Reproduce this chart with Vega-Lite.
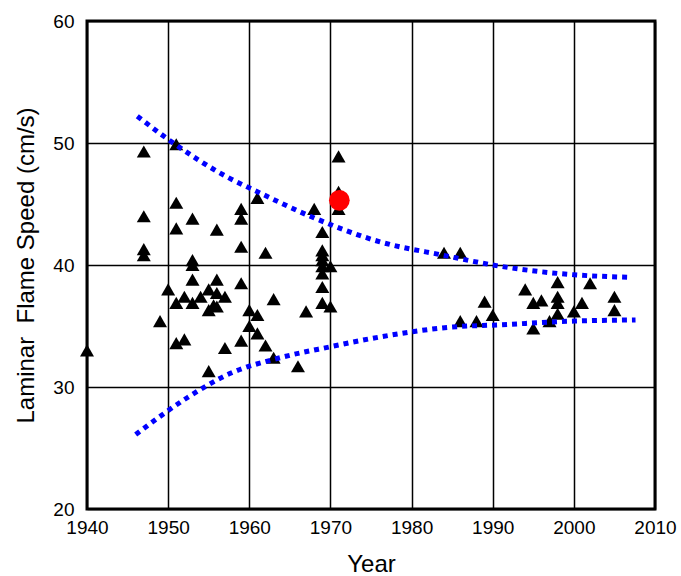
{
  "$schema": "https://vega.github.io/schema/vega-lite/v6.json",
  "width": 568,
  "height": 488,
  "autosize": {"type": "none"},
  "padding": {"left": 87, "top": 21, "right": 26, "bottom": 67},
  "background": "white",
  "config": {
    "view": {"stroke": "black", "strokeWidth": 3},
    "axis": {
      "labelFont": "Liberation Sans",
      "labelFontSize": 19,
      "labelColor": "black",
      "titleFont": "Liberation Sans",
      "titleFontSize": 24,
      "titleFontWeight": "normal",
      "titleColor": "black",
      "grid": true,
      "gridColor": "black",
      "gridWidth": 1.5,
      "gridOpacity": 1,
      "ticks": false,
      "domain": false,
      "labelFlush": false,
      "labelOverlap": false
    }
  },
  "datasets": {
    "pts": [
      {"year": 1940, "speed": 33.0},
      {"year": 1947, "speed": 49.3},
      {"year": 1947, "speed": 44.0},
      {"year": 1947, "speed": 41.3},
      {"year": 1947, "speed": 40.8},
      {"year": 1949, "speed": 35.4},
      {"year": 1950, "speed": 38.0},
      {"year": 1951, "speed": 49.9},
      {"year": 1951, "speed": 45.1},
      {"year": 1951, "speed": 43.0},
      {"year": 1951, "speed": 36.9},
      {"year": 1951, "speed": 33.6},
      {"year": 1952, "speed": 37.4},
      {"year": 1952, "speed": 33.9},
      {"year": 1953, "speed": 43.8},
      {"year": 1953, "speed": 40.4},
      {"year": 1953, "speed": 40.0},
      {"year": 1953, "speed": 38.8},
      {"year": 1953, "speed": 36.9},
      {"year": 1954, "speed": 37.4},
      {"year": 1955, "speed": 38.0},
      {"year": 1955, "speed": 36.3},
      {"year": 1955, "speed": 31.3},
      {"year": 1955.6, "speed": 36.7},
      {"year": 1956, "speed": 42.9},
      {"year": 1956, "speed": 38.8},
      {"year": 1956, "speed": 37.7},
      {"year": 1956, "speed": 36.6},
      {"year": 1957, "speed": 37.4},
      {"year": 1957, "speed": 33.2},
      {"year": 1959, "speed": 44.6},
      {"year": 1959, "speed": 43.8},
      {"year": 1959, "speed": 41.5},
      {"year": 1959, "speed": 38.5},
      {"year": 1959, "speed": 33.8},
      {"year": 1960, "speed": 36.3},
      {"year": 1960, "speed": 35.0},
      {"year": 1961, "speed": 45.5},
      {"year": 1961, "speed": 35.9},
      {"year": 1961, "speed": 34.4},
      {"year": 1962, "speed": 41.0},
      {"year": 1962, "speed": 33.4},
      {"year": 1963, "speed": 37.2},
      {"year": 1963, "speed": 32.4},
      {"year": 1966, "speed": 31.7},
      {"year": 1967, "speed": 36.2},
      {"year": 1968, "speed": 44.6},
      {"year": 1969, "speed": 42.7},
      {"year": 1969, "speed": 41.2},
      {"year": 1969, "speed": 40.8},
      {"year": 1969, "speed": 40.4},
      {"year": 1969, "speed": 39.9},
      {"year": 1969, "speed": 39.3},
      {"year": 1969, "speed": 38.2},
      {"year": 1969, "speed": 36.9},
      {"year": 1970, "speed": 39.9},
      {"year": 1970, "speed": 36.6},
      {"year": 1971, "speed": 48.9},
      {"year": 1971, "speed": 46.0},
      {"year": 1971, "speed": 44.6},
      {"year": 1984, "speed": 41.0},
      {"year": 1986, "speed": 41.0},
      {"year": 1986, "speed": 35.4},
      {"year": 1988, "speed": 35.4},
      {"year": 1989, "speed": 37.0},
      {"year": 1990, "speed": 35.9},
      {"year": 1994, "speed": 38.0},
      {"year": 1995, "speed": 36.9},
      {"year": 1995, "speed": 34.8},
      {"year": 1996, "speed": 37.1},
      {"year": 1997, "speed": 35.4},
      {"year": 1998, "speed": 38.6},
      {"year": 1998, "speed": 37.4},
      {"year": 1998, "speed": 36.9},
      {"year": 1998, "speed": 36.0},
      {"year": 2000, "speed": 36.2},
      {"year": 2001, "speed": 36.9},
      {"year": 2002, "speed": 38.5},
      {"year": 2005, "speed": 37.4},
      {"year": 2005, "speed": 36.3}
    ],
    "curves": [
      {"curve": "upper", "year": 1946.2, "speed": 52.2},
      {"curve": "upper", "year": 1950.0, "speed": 50.3},
      {"curve": "upper", "year": 1957.6, "speed": 47.1},
      {"curve": "upper", "year": 1960.7, "speed": 46.1},
      {"curve": "upper", "year": 1967.5, "speed": 44.0},
      {"curve": "upper", "year": 1976.1, "speed": 41.9},
      {"curve": "upper", "year": 1983.9, "speed": 40.8},
      {"curve": "upper", "year": 1990.9, "speed": 39.9},
      {"curve": "upper", "year": 2000.0, "speed": 39.2},
      {"curve": "upper", "year": 2006.6, "speed": 39.0},
      {"curve": "lower", "year": 1946.0, "speed": 26.1},
      {"curve": "lower", "year": 1952.3, "speed": 29.1},
      {"curve": "lower", "year": 1957.6, "speed": 31.1},
      {"curve": "lower", "year": 1963.8, "speed": 32.4},
      {"curve": "lower", "year": 1970.0, "speed": 33.3},
      {"curve": "lower", "year": 1976.1, "speed": 34.1},
      {"curve": "lower", "year": 1984.7, "speed": 34.9},
      {"curve": "lower", "year": 1990.9, "speed": 35.1},
      {"curve": "lower", "year": 2000.0, "speed": 35.4},
      {"curve": "lower", "year": 2007.6, "speed": 35.5}
    ],
    "highlight": [
      {"year": 1971.1, "speed": 45.3}
    ]
  },
  "layer": [
    {
      "data": {"name": "pts"},
      "mark": {"type": "point", "shape": "triangle-up", "filled": true, "color": "black", "opacity": 1, "size": 196},
      "encoding": {
        "x": {"field": "year", "type": "quantitative", "scale": {"domain": [1940, 2010], "nice": false, "zero": false},
          "axis": {"title": "Year", "values": [1940, 1950, 1960, 1970, 1980, 1990, 2000, 2010], "format": "d", "labelPadding": 9, "titlePadding": 15}},
        "y": {"field": "speed", "type": "quantitative", "scale": {"domain": [20, 60], "nice": false, "zero": false},
          "axis": {"title": "Laminar\u00a0 Flame Speed (cm/s)", "values": [20, 30, 40, 50, 60], "labelPadding": 13, "titlePadding": 14}}
      }
    },
    {
      "data": {"name": "curves"},
      "mark": {"type": "line", "color": "#0000ff", "strokeWidth": 5, "strokeDash": [5, 5], "interpolate": "monotone"},
      "encoding": {
        "x": {"field": "year", "type": "quantitative"},
        "y": {"field": "speed", "type": "quantitative"},
        "detail": {"field": "curve"}
      }
    },
    {
      "data": {"name": "highlight"},
      "mark": {"type": "point", "shape": "circle", "filled": true, "color": "#ff0000", "opacity": 1, "size": 430},
      "encoding": {
        "x": {"field": "year", "type": "quantitative"},
        "y": {"field": "speed", "type": "quantitative"}
      }
    }
  ]
}
